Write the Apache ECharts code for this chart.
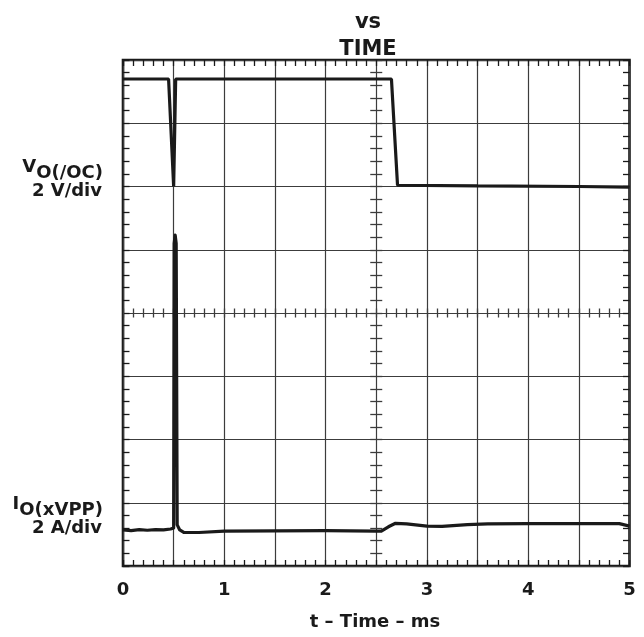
<!DOCTYPE html>
<html>
<head>
<meta charset="utf-8">
<script src="https://cdn.jsdelivr.net/npm/echarts@6/dist/echarts.min.js"></script>
<style>
  html, body { margin: 0; padding: 0; background: #fff; }
  #chart { width: 644px; height: 637px; }
</style>
</head>
<body>
<div id="chart"></div>
<script>
// Scope traces, in screen divisions (8 vertical divisions, 0 = bottom edge)
// Time axis: 0 .. 5 ms, 0.5 ms per division
const xTicks = [0, 1, 2, 3, 4, 5];

// V_O(/OC), 2 V/div
const voltTime = [0, 0.45, 0.50, 0.52, 2.65, 2.71, 3.5, 4.5, 5.0];
const voltDiv  = [7.70, 7.70, 6.00, 7.70, 7.70, 6.02, 6.01, 6.00, 5.99];

// I_O(xVPP), 2 A/div
const currTime = [0, 0.08, 0.16, 0.24, 0.32, 0.40, 0.47, 0.50, 0.505, 0.515, 0.525, 0.535, 0.56, 0.60, 0.75, 1.0, 1.5, 2.0, 2.5, 2.55, 2.62, 2.69, 2.8, 3.0, 3.15, 3.4, 3.6, 4.0, 4.5, 4.9, 5.0];
const currDiv  = [0.57, 0.56, 0.575, 0.565, 0.575, 0.57, 0.585, 0.60, 5.10, 5.23, 5.10, 0.65, 0.57, 0.53, 0.53, 0.55, 0.555, 0.56, 0.55, 0.55, 0.62, 0.675, 0.665, 0.63, 0.625, 0.655, 0.665, 0.67, 0.67, 0.67, 0.63];

const FONT = 'DejaVu Sans';
const INK = '#1a1a1a';
const GRIDC = '#3c3c3c';

// plot frame in pixels
const L = 123, T = 60, W = 506.5, H = 506;

function pairs(xs, ys) { return xs.map((x, i) => [x, ys[i]]); }

function textWidth(text, font) {
  const ctx = document.createElement('canvas').getContext('2d');
  ctx.font = font;
  return ctx.measureText(text).width;
}

// Tick-only axes: each sits on a helper grid whose edge coincides with a
// frame edge or a center line, so its (outward) ticks point where needed.
function tickX(gridIndex, position, len, color) {
  return {
    type: 'value', gridIndex, position, min: 0, max: 5, interval: 0.1,
    axisLine: { show: false, onZero: false }, axisLabel: { show: false }, splitLine: { show: false },
    axisTick: { show: true, length: len, lineStyle: { color, width: 1.3 } }
  };
}
function tickY(gridIndex, position, len, color) {
  return {
    type: 'value', gridIndex, position, min: 0, max: 8, interval: 0.2,
    axisLine: { show: false, onZero: false }, axisLabel: { show: false }, splitLine: { show: false },
    axisTick: { show: true, length: len, lineStyle: { color, width: 1.3 } }
  };
}
function hiddenX(gridIndex) { return { type: 'value', gridIndex, show: false, min: 0, max: 5 }; }
function hiddenY(gridIndex) { return { type: 'value', gridIndex, show: false, min: 0, max: 8 }; }

const grids = [
  { left: L, top: T, width: W, height: H, show: true, borderColor: INK, borderWidth: 2.6, backgroundColor: 'transparent' }, // 0 main
  { left: L, top: 0, width: W, height: T },                 // 1 above frame: ticks down from top edge
  { left: L, top: T + H, width: W, height: 20 },            // 2 below frame: ticks up from bottom edge
  { left: L, top: T, width: W, height: H / 2 },             // 3 upper half: ticks down from center line
  { left: L, top: T + H / 2, width: W, height: H / 2 },     // 4 lower half: ticks up from center line
  { left: 0, top: T, width: L, height: H },                 // 5 left of frame: ticks right from left edge
  { left: L + W, top: T, width: 10, height: H },            // 6 right of frame: ticks left from right edge
  { left: L, top: T, width: W / 2, height: H },             // 7 left half: ticks right from center line
  { left: L + W / 2, top: T, width: W / 2, height: H }      // 8 right half: ticks left from center line
];

const xAxes = [
  {
    type: 'value', gridIndex: 0, position: 'bottom', min: 0, max: 5, interval: 0.5,
    axisLine: { show: false, onZero: false }, axisTick: { show: false },
    splitLine: { show: true, lineStyle: { color: GRIDC, width: 1.2 } },
    axisLabel: {
      show: true, margin: 15, color: INK, fontFamily: FONT, fontWeight: 'bold', fontSize: 18,
      formatter: v => {
        const r = Math.round(v);
        return (Math.abs(v - r) < 1e-6 && xTicks.includes(r)) ? String(r) : '';
      }
    }
  },
  tickX(1, 'bottom', 6, INK),
  tickX(2, 'top', 6, INK),
  tickX(3, 'bottom', 4.5, GRIDC),
  tickX(4, 'top', 4.5, GRIDC),
  hiddenX(5), hiddenX(6), hiddenX(7), hiddenX(8)
];

const yAxes = [
  {
    type: 'value', gridIndex: 0, position: 'left', min: 0, max: 8, interval: 1,
    axisLine: { show: false, onZero: false }, axisTick: { show: false }, axisLabel: { show: false },
    splitLine: { show: true, lineStyle: { color: GRIDC, width: 1.2 } }
  },
  hiddenY(1), hiddenY(2), hiddenY(3), hiddenY(4),
  tickY(5, 'right', 6.5, INK),
  tickY(6, 'left', 6.5, INK),
  tickY(7, 'right', 6, GRIDC),
  tickY(8, 'left', 6, GRIDC)
];

const labelFont = 'bold 18px "DejaVu Sans"';
const subV = 'O(/OC)', subI = 'O(xVPP)';
const RX = 103;

const option = {
  animation: false,
  backgroundColor: '#fff',
  grid: grids,
  xAxis: xAxes,
  yAxis: yAxes,
  series: [
    {
      name: 'VO(/OC)', type: 'line', xAxisIndex: 0, yAxisIndex: 0,
      data: pairs(voltTime, voltDiv), showSymbol: false, symbol: 'none',
      lineStyle: { color: INK, width: 3.2 }, z: 5
    },
    {
      name: 'IO(xVPP)', type: 'line', xAxisIndex: 0, yAxisIndex: 0,
      data: pairs(currTime, currDiv), showSymbol: false, symbol: 'none',
      lineStyle: { color: INK, width: 3.2, join: 'round' }, z: 5
    }
  ],
  graphic: [
    {
      type: 'text', x: 368, y: 9,
      style: {
        text: 'vs\nTIME', align: 'center', verticalAlign: 'top', lineHeight: 27,
        font: 'bold 21px "DejaVu Sans"', fill: INK
      }
    },
    // V_O(/OC) label: main letter plus lowered subscript
    { type: 'text', x: RX - textWidth(subV, labelFont), y: 167.5,
      style: { text: 'V', align: 'right', verticalAlign: 'middle', font: labelFont, fill: INK } },
    { type: 'text', x: RX, y: 173.5,
      style: { text: subV, align: 'right', verticalAlign: 'middle', font: labelFont, fill: INK } },
    { type: 'text', x: RX - 1, y: 191,
      style: { text: '2 V/div', align: 'right', verticalAlign: 'middle', font: labelFont, fill: INK } },
    // I_O(xVPP) label
    { type: 'text', x: RX - textWidth(subI, labelFont), y: 504.5,
      style: { text: 'I', align: 'right', verticalAlign: 'middle', font: labelFont, fill: INK } },
    { type: 'text', x: RX, y: 510.5,
      style: { text: subI, align: 'right', verticalAlign: 'middle', font: labelFont, fill: INK } },
    { type: 'text', x: RX - 1, y: 528.5,
      style: { text: '2 A/div', align: 'right', verticalAlign: 'middle', font: labelFont, fill: INK } },
    {
      type: 'text', x: 375, y: 622,
      style: { text: 't – Time – ms', align: 'center', verticalAlign: 'middle', font: 'bold 18px "DejaVu Sans"', fill: INK }
    }
  ]
};

const chart = echarts.init(document.getElementById('chart'), null, { renderer: 'canvas' });
chart.setOption(option);
</script>
</body>
</html>
